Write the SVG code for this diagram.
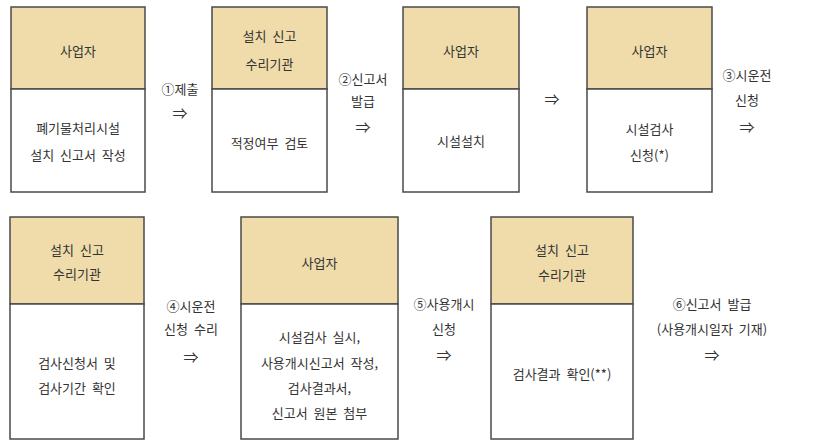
<svg xmlns="http://www.w3.org/2000/svg" width="820" height="446" viewBox="0 0 820 446">
<style>
.hd{fill:#efdcaa;stroke:#4a4a4a;stroke-width:1.5}
.bd{fill:#ffffff;stroke:#4a4a4a;stroke-width:1.5}
text{font-family:"Noto Sans CJK KR","Noto Sans",sans-serif;font-size:13px;fill:#333;text-anchor:middle;dominant-baseline:central;word-spacing:3px}
.ar{font-size:15px}
</style>
<rect width="820" height="446" fill="#fff"/>
<g id="n1">
<rect class="hd" x="11" y="7" width="134" height="82"/>
<rect class="bd" x="11" y="89" width="134" height="103"/>
<text x="78" y="50">사업자</text>
<text x="78" y="127">폐기물처리시설</text>
<text x="78" y="154">설치 신고서 작성</text>
</g>
<g id="n2">
<rect class="hd" x="212" y="7" width="115" height="82"/>
<rect class="bd" x="212" y="89" width="115" height="103"/>
<text x="269.5" y="35">설치 신고</text>
<text x="269.5" y="63">수리기관</text>
<text x="269.5" y="142">적정여부 검토</text>
</g>
<g id="n3">
<rect class="hd" x="403" y="7" width="116" height="82"/>
<rect class="bd" x="403" y="89" width="116" height="103"/>
<text x="461" y="50">사업자</text>
<text x="461" y="140">시설설치</text>
</g>
<g id="n4">
<rect class="hd" x="587" y="7" width="125" height="82"/>
<rect class="bd" x="587" y="89" width="125" height="103"/>
<text x="649.5" y="50">사업자</text>
<text x="649.5" y="128">시설검사</text>
<text x="649.5" y="154">신청(*)</text>
</g>
<g id="n5">
<rect class="hd" x="10" y="217" width="134" height="87"/>
<rect class="bd" x="10" y="304" width="134" height="135"/>
<text x="77" y="249">설치 신고</text>
<text x="77" y="273">수리기관</text>
<text x="77" y="362">검사신청서 및</text>
<text x="77" y="387">검사기간 확인</text>
</g>
<g id="n6">
<rect class="hd" x="241" y="217" width="157" height="87"/>
<rect class="bd" x="241" y="304" width="157" height="135"/>
<text x="319.5" y="262">사업자</text>
<text x="319.5" y="336">시설검사 실시,</text>
<text x="319.5" y="362">사용개시신고서 작성,</text>
<text x="319.5" y="387">검사결과서,</text>
<text x="319.5" y="412">신고서 원본 첨부</text>
</g>
<g id="n7">
<rect class="hd" x="491" y="217" width="142" height="87"/>
<rect class="bd" x="491" y="304" width="142" height="135"/>
<text x="562" y="249">설치 신고</text>
<text x="562" y="274">수리기관</text>
<text x="562" y="373">검사결과 확인(**)</text>
</g>
<g id="connectors">
<text x="180" y="88">①제출</text>
<text class="ar" x="180" y="112">⇒</text>
<text x="363" y="78">②신고서</text>
<text x="363" y="100">발급</text>
<text class="ar" x="363" y="126">⇒</text>
<text class="ar" x="552" y="98">⇒</text>
<text x="747" y="74">③시운전</text>
<text x="747" y="99">신청</text>
<text class="ar" x="747" y="126">⇒</text>
<text x="191" y="305">④시운전</text>
<text x="191" y="328">신청 수리</text>
<text class="ar" x="191" y="356">⇒</text>
<text x="444" y="303">⑤사용개시</text>
<text x="444" y="328">신청</text>
<text class="ar" x="444" y="354">⇒</text>
<text x="712" y="303">⑥신고서 발급</text>
<text x="712" y="328">(사용개시일자 기재)</text>
<text class="ar" x="712" y="354">⇒</text>
</g>
</svg>
